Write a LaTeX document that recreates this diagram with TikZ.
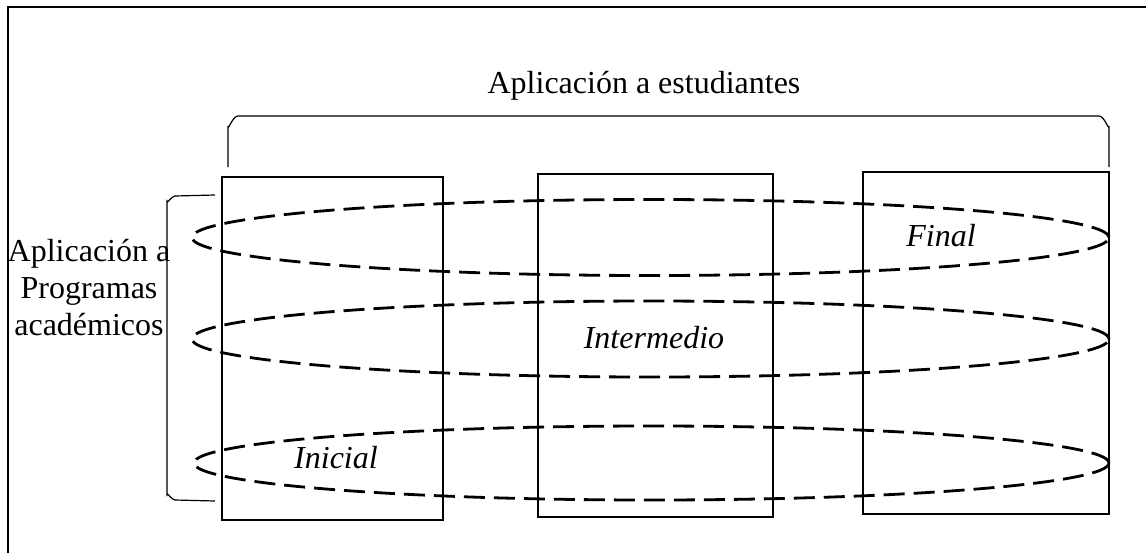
\documentclass[tikz,border=0pt]{standalone}
\usepackage{fontspec}
\setmainfont{Liberation Serif}
\usetikzlibrary{shapes.geometric}
\begin{document}
\begin{tikzpicture}[x=1pt,y=-1pt,
  frameline/.style={line width=2.8pt},
  stagebox/.style={draw, line width=2.8pt, rectangle, inner sep=0pt},
  ring/.style={draw, ellipse, line width=2.8pt, dash pattern=on 21pt off 9pt, inner sep=0pt},
  bracket/.style={line width=1.2pt},
  lbl/.style={font=\fontsize{32}{37}\selectfont, inner sep=0pt},
  stage/.style={font=\fontsize{32}{37}\selectfont\itshape, inner sep=0pt, anchor=base}]
\useasboundingbox (0,0) rectangle (1146,552);
% frame (only left and top visible)
\coordinate (fbl) at (8,560);
\coordinate (ftl) at (8,7);
\coordinate (ftr) at (1150,7);
\draw[frameline] (fbl) -- (ftl) -- (ftr);
% boxes
\node[stagebox, minimum width=221pt, minimum height=343pt] (b1) at (332.5,348.5) {};
\node[stagebox, minimum width=235pt, minimum height=343pt] (b2) at (655.5,345.5) {};
\node[stagebox, minimum width=246pt, minimum height=342pt] (b3) at (986,343) {};
% rings
\node[ring, minimum width=917pt, minimum height=76pt] (e1) at (650.5,237.5) {};
\node[ring, minimum width=917pt, minimum height=76pt] (e2) at (650.5,339) {};
\node[ring, minimum width=915pt, minimum height=74pt] (e3) at (651.5,463) {};
% top bracket
\coordinate (tb1) at (228,167);
\coordinate (tb2) at (1109,167);
\draw[bracket] (tb1) -- (228,126) to[out=-90,in=180] (238,116) -- (1099,116) to[out=0,in=-90] (1109,126) -- (tb2);
% left bracket
\coordinate (lb1) at (215,195);
\coordinate (lb2) at (215,501);
\draw[bracket] (lb1) -- (175,196) to[out=180,in=-90] (167,201) -- (167,495) to[out=90,in=180] (175,500) -- (lb2);
% labels
\node[lbl, anchor=base] (tstud) at (644,93) {Aplicación a estudiantes};
\node[lbl, align=center] (tprog) at (89,288) {Aplicación a\\Programas\\académicos};
\node[stage] (tfin) at (941,246) {Final};
\node[stage] (tint) at (654,348) {Intermedio};
\node[stage] (tini) at (336,468) {Inicial};
\end{tikzpicture}
\end{document}
